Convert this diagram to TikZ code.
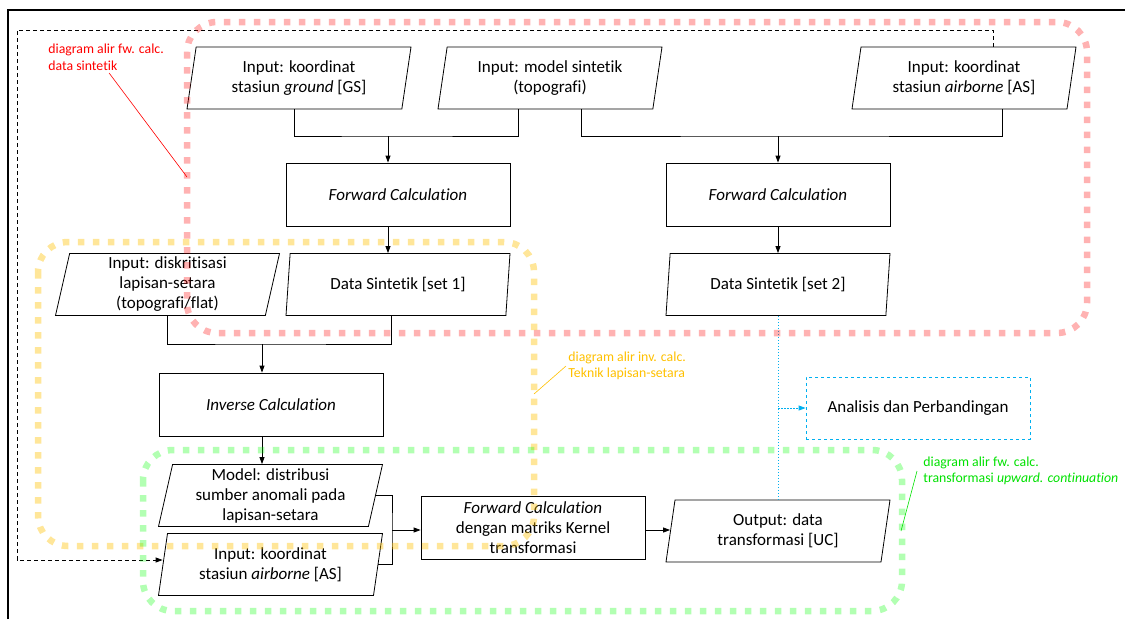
\documentclass[tikz,border=0pt]{standalone}
\usepackage{fontspec}
\setmainfont[Ligatures=NoCommon]{Carlito}
\usetikzlibrary{shapes.geometric, arrows.meta}
\definecolor{boxblue}{RGB}{0,176,240}
\definecolor{noteyellow}{RGB}{255,192,0}
\definecolor{notegreen}{RGB}{0,225,0}
\tikzset{every picture/.style = {x=1pt, y=-1pt, line width=0.8pt}}
\tikzset{io/.style = {draw, trapezium, trapezium left angle=76, trapezium right angle=104, trapezium stretches body, minimum width=224pt, minimum height=62pt, inner sep=1pt, align=center, font=\fontsize{17}{20}\selectfont}}
\tikzset{proc/.style = {draw, rectangle, minimum width=224pt, minimum height=63pt, align=center, font=\fontsize{17}{20}\selectfont}}
\tikzset{arr/.style = {-{Triangle[length=7pt, width=5pt]}}}
\tikzset{loop/.style = {line width=6.5pt, dash pattern=on 6.5pt off 8.5pt, rounded corners=30pt, draw opacity=0.3}}
\tikzset{note/.style = {align=left, inner sep=2pt, font=\fontsize{13.8}{16.5}\selectfont}}

\begin{document}
\begin{tikzpicture}
  \useasboundingbox (0,0) rectangle (1125,619);
  \draw[line width=1.6pt] (8,619) -- (8,10) -- (1125,10);

  % forward calculation, data sintetik
  \node[io] (gs) at (299,78) {Input: koordinat\\stasiun \textit{ground} [GS]};
  \node[io] (model) at (550,78) {Input: model sintetik\\(topografi)};
  \node[io] (asIn) at (964,78) {Input: koordinat\\stasiun \textit{airborne} [AS]};
  \node[proc] (fc1) at (398,194.5) {\textit{Forward Calculation}};
  \node[proc] (fc2) at (778,194.5) {\textit{Forward Calculation}};
  \node[io] (set1) at (398,284.5) {Data Sintetik [set 1]};
  \node[io] (set2) at (778,284.5) {Data Sintetik [set 2]};

  % inverse calculation
  \node[io] (disk) at (167.5,284.5) {Input: diskritisasi\\lapisan-setara\\(topografi/flat)};
  \node[proc] (inv) at (271,404.5) {\textit{Inverse Calculation}};
  \node[io] (mdl) at (270.5,495.5) {Model: distribusi\\sumber anomali pada\\lapisan-setara};
  \node[io] (as2) at (270.5,564.5) {Input: koordinat\\stasiun \textit{airborne} [AS]};

  % transformasi
  \node[proc] (fc3) at (533,527.5) {\textit{Forward Calculation}\\dengan matriks Kernel\\transformasi};
  \node[io] (out) at (778,531) {Output: data\\transformasi [UC]};
  \node[proc, draw=boxblue, dashed, minimum height=62pt] (ana) at (918,408) {Analisis dan Perbandingan};

  % connectors
  \coordinate (j1) at (388,136);
  \coordinate (j2) at (778,136);
  \coordinate (j3) at (262,344);
  \coordinate (j4) at (392,530);
  \coordinate (j5) at (778,408);
  \draw ([xshift=-5pt]gs.south) |- (j1) -| ([xshift=-32pt]model.south);
  \draw[arr] (j1) -- (j1 |- fc1.north);
  \draw[arr] (j1 |- fc1.south) -- (j1 |- set1.north);
  \draw ([xshift=31pt]model.south) |- (j2) -| ([xshift=38pt]asIn.south);
  \draw[arr] (j2) -- (j2 |- fc2.north);
  \draw[arr] (j2 |- fc2.south) -- (j2 |- set2.north);
  \draw (disk.south) |- (j3) -| ([xshift=-7pt]set1.south);
  \draw[arr] (j3) -- (j3 |- inv.north);
  \draw[arr] (j3 |- inv.south) -- (j3 |- mdl.north);
  \draw (mdl.east) -| (j4) |- (as2.east);
  \draw[arr] (j4) -- (j4 -| fc3.west);
  \draw[arr] (j4 -| fc3.east) -- (j4 -| out.west);
  \draw[boxblue, dash pattern=on 1.5pt off 1.5pt] (j2 |- set2.south) -- (j2 |- out.north);
  \draw[boxblue, dash pattern=on 1.5pt off 1.5pt, arr] (j5) -- (ana.west);

  % dashed return to airborne input
  \coordinate (d1) at (993,30);
  \coordinate (d2) at (17,30);
  \coordinate (d3) at (17,560);
  \draw[dash pattern=on 4pt off 3pt, arr] (d1 |- asIn.north) -- (d1) -- (d2) -- (d3) -- (d3 -| as2.west);

  % grouping loops
  \draw[loop, red] (187,22) rectangle (1087,333);
  \draw[loop, noteyellow, draw opacity=0.4] (38,242) rectangle (534,546);
  \draw[loop, green] (143,450) rectangle (902,611);

  % notes
  \node[note, red, anchor=north west] (rnote) at (46,42) {diagram alir fw. calc.\\data sintetik};
  \node[note, noteyellow, anchor=west] (ynote) at (566,366) {diagram alir inv. calc.\\Teknik lapisan-setara};
  \node[note, notegreen, anchor=west] (gnote) at (921,471) {diagram alir fw. calc.\\transformasi \textit{upward. continuation}};
  \coordinate (rtip) at (187,177);
  \coordinate (ytip) at (534,394);
  \coordinate (gtip) at (901,531);
  \draw[red, line width=0.6pt] ([xshift=3pt]rnote.south) -- (rtip);
  \draw[noteyellow, line width=0.6pt] (ynote.west) -- (ytip);
  \draw[notegreen, line width=0.6pt] ([xshift=-4pt]gnote.west) -- (gtip);
\end{tikzpicture}
\end{document}
